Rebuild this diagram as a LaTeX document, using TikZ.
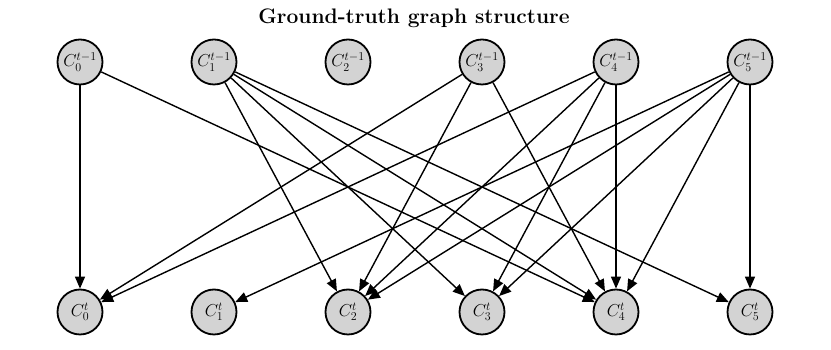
\documentclass[tikz,border=0pt]{standalone}
\usetikzlibrary{arrows.meta}
\begin{document}
\begin{tikzpicture}[x=1pt,y=1pt,
  var/.style={circle,draw=black,line width=1.8pt,fill={rgb,255:red,211;green,211;blue,211},minimum size=45pt,inner sep=0pt,font=\fontsize{18}{20}\selectfont},
  edge/.style={line width=1.4pt,-{Triangle[length=12pt,width=10pt]}}]
\useasboundingbox (0,0) rectangle (831,350);
\node[anchor=base,font=\fontsize{21}{25}\selectfont\bfseries] (title) at (414,326) {Ground-truth graph structure};
\foreach \i/\x in {0/80,1/214,2/348,3/482,4/616,5/750}{
  \node[var] (t\i) at (\x,288) {$C_{\i}^{t-1}$};
  \node[var] (b\i) at (\x,38) {$C_{\i}^{t}$};
}
\foreach \s/\d in {0/0,0/4,1/2,1/3,1/4,1/5,3/0,3/2,3/4,4/0,4/2,4/3,4/4,5/1,5/2,5/3,5/4,5/5}{
  \draw[edge] (t\s) -- (b\d);
}
\end{tikzpicture}
\end{document}
